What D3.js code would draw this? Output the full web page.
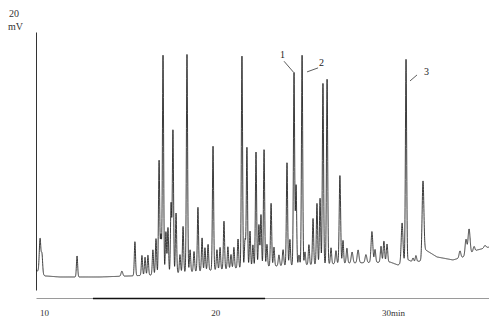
<!DOCTYPE html>
<html>
<head>
<meta charset="utf-8">
<script src="https://cdn.jsdelivr.net/npm/d3@7"></script>
<style>
  html, body { margin: 0; padding: 0; background: #fff; }
  svg { display: block; }
</style>
</head>
<body>
<svg id="chart" width="489" height="320"></svg>
<script>
// ---- data ----
// retention time (min) of each peak
const peakTimes = [9.77, 9.88, 11.93, 14.55, 15.31, 15.72, 15.90, 16.07, 16.36, 16.54,
  16.72, 16.83, 16.95, 17.12, 17.24, 17.42, 17.53, 17.71, 17.94, 18.12,
  18.35, 18.53, 18.76, 18.99, 19.23, 19.40, 19.58, 19.87, 20.10, 20.28,
  20.51, 20.74, 20.92, 21.09, 21.33, 21.56, 21.74, 21.85, 22.03, 22.20,
  22.38, 22.55, 22.67, 22.85, 23.02, 23.26, 23.43, 23.72, 23.96, 24.19,
  24.36, 24.60, 24.72, 24.89, 25.07, 25.24, 25.47, 25.71, 25.94, 26.12,
  26.29, 26.53, 26.76, 27.05, 27.28, 27.46, 27.69, 27.99, 28.34, 28.80,
  29.15, 29.33, 29.68, 29.85, 30.03, 30.91, 31.14, 31.55, 31.72, 32.13,
  34.29, 34.64, 34.82, 35.11, 35.75];
// peak height above baseline (mV)
const peakHeights = [2.64, 1.50, 1.63, 0.39, 2.64, 1.55, 1.40, 1.55, 1.94, 2.79,
  8.84, 3.02, 16.98, 3.26, 3.57, 5.43, 11.09, 4.65, 1.40, 3.57,
  16.90, 1.71, 1.55, 4.96, 2.56, 1.78, 2.02, 9.61, 1.55, 1.71,
  3.72, 1.71, 1.09, 1.63, 2.25, 16.43, 2.17, 9.30, 2.79, 1.71,
  8.91, 3.26, 4.03, 9.07, 1.71, 4.88, 1.47, 0.85, 1.24, 7.98,
  2.02, 14.96, 6.20, 0.78, 16.28, 1.00, 1.55, 3.57, 4.73, 5.12,
  14.03, 14.34, 1.24, 1.00, 6.82, 1.78, 1.16, 0.85, 1.00, 0.62,
  2.40, 1.00, 1.24, 1.63, 1.40, 3.10, 15.66, 0.31, 0.47, 5.58,
  0.54, 1.24, 1.94, 0.39, 0.20];
// peak width (standard deviation, min)
const peakWidths = [0.045, 0.04, 0.035, 0.05, 0.035, 0.035, 0.035, 0.035, 0.035, 0.035,
  0.035, 0.035, 0.035, 0.035, 0.035, 0.035, 0.035, 0.035, 0.035, 0.035,
  0.035, 0.035, 0.035, 0.035, 0.035, 0.035, 0.035, 0.035, 0.035, 0.035,
  0.035, 0.035, 0.035, 0.035, 0.035, 0.035, 0.035, 0.035, 0.035, 0.035,
  0.035, 0.035, 0.035, 0.035, 0.035, 0.035, 0.035, 0.04, 0.04, 0.035,
  0.035, 0.035, 0.035, 0.035, 0.035, 0.035, 0.035, 0.035, 0.035, 0.035,
  0.035, 0.035, 0.035, 0.04, 0.04, 0.035, 0.04, 0.05, 0.05, 0.05,
  0.05, 0.04, 0.04, 0.04, 0.04, 0.05, 0.035, 0.04, 0.04, 0.05,
  0.05, 0.05, 0.06, 0.05, 0.06];
// drifting baseline (min, mV)
const baseTimes  = [9.53, 10.06, 10.93, 13.27, 15.02, 16.19, 19.11, 22.03, 24.95, 27.87,
  30.20, 30.67, 31.26, 31.55, 32.01, 32.19, 32.95, 33.88, 34.47, 35.29, 35.99];
const baseValues = [1.55, 1.09, 1.01, 1.01, 1.09, 1.16, 1.47, 1.78, 1.94, 2.09,
  2.17, 1.94, 2.33, 2.17, 2.25, 3.18, 2.56, 2.33, 2.56, 3.10, 3.33];
// labelled peaks
const labelNames = ["1", "2", "3"];
const labelTimes = [24.60, 25.07, 31.14];
// axis
const tickValues = [10, 20, 30];
const tickLabels = ["10", "20", "30min"];
const yUnitTop = "20";
const yUnitBottom = "mV";

// ---- scales ----
const svg = d3.select("#chart");
const x = d3.scaleLinear().domain([9.533, 35.985]).range([36, 489]);
const y = d3.scaleLinear().domain([0, 20]).range([290, 32]);
const baseline = d3.scaleLinear().domain(baseTimes).range(baseValues).clamp(true);

// build trace from peak table
const samples = [];
const step = 0.005;
for (let t = x.domain()[0]; t <= x.domain()[1]; t += step) {
  let v = baseline(t);
  for (let i = 0; i < peakTimes.length; i++) {
    const d = (t - peakTimes[i]) / peakWidths[i];
    if (Math.abs(d) < 8) v += peakHeights[i] * Math.exp(-0.5 * d * d);
  }
  samples.push([t, v]);
}

// ---- axes ----
const yAxis = d3.axisLeft(y).tickValues([]).tickSizeOuter(0);
const gy = svg.append("g").attr("transform", "translate(36,0)").call(yAxis);
gy.select(".domain").attr("stroke", "#333").attr("stroke-width", 1);

const xAxis = d3.axisBottom(x).tickValues(tickValues).tickSize(0).tickSizeOuter(0)
  .tickPadding(12).tickFormat((d, i) => tickLabels[i]);
const gx = svg.append("g").attr("transform", "translate(0,298)").call(xAxis);
gx.select(".domain").attr("stroke", "#9a9a9a").attr("stroke-width", 1);
gx.selectAll("text")
  .attr("font-family", "'Liberation Serif', 'DejaVu Serif', serif")
  .attr("font-size", 9).attr("fill", "#333");
gx.selectAll(".tick").filter(d => d === 30).select("text")
  .attr("text-anchor", "start").attr("dx", -5);
// darker stretch of the time axis
gx.append("line")
  .attr("x1", x(12.86)).attr("x2", x(22.91))
  .attr("y1", 0.5).attr("y2", 0.5)
  .attr("stroke", "#111").attr("stroke-width", 1.6);

svg.append("text").attr("x", 9).attr("y", 17).text(yUnitTop)
  .attr("font-family", "'Liberation Serif', 'DejaVu Serif', serif")
  .attr("font-size", 10).attr("fill", "#333");
svg.append("text").attr("x", 8).attr("y", 30).text(yUnitBottom)
  .attr("font-family", "'Liberation Serif', 'DejaVu Serif', serif")
  .attr("font-size", 10).attr("fill", "#333");

// ---- trace ----
const line = d3.line().x(d => x(d[0])).y(d => y(d[1]));
svg.append("path").datum(samples)
  .attr("d", line)
  .attr("fill", "none")
  .attr("stroke", "#1a1a1a")
  .attr("stroke-width", 0.85)
  .attr("stroke-linejoin", "round");

// ---- peak labels ----
const apex = t => {
  const i = peakTimes.indexOf(t);
  return baseline(t) + peakHeights[i];
};
const lab = svg.append("g")
  .attr("font-family", "'Liberation Serif', 'DejaVu Serif', serif")
  .attr("font-size", 10).attr("fill", "#222");
{
  const px = x(labelTimes[0]), py = y(apex(labelTimes[0]));
  lab.append("line").attr("x1", px - 10).attr("y1", py - 11).attr("x2", px - 0.5).attr("y2", py)
    .attr("stroke", "#333").attr("stroke-width", 0.8);
  lab.append("text").attr("x", px - 14).attr("y", py - 14).text(labelNames[0]);
}
{
  const px = x(labelTimes[1]), py = y(apex(labelTimes[1]));
  lab.append("line").attr("x1", px + 5).attr("y1", py + 17).attr("x2", px + 16).attr("y2", py + 13)
    .attr("stroke", "#333").attr("stroke-width", 0.8);
  lab.append("text").attr("x", px + 17).attr("y", py + 11).text(labelNames[1]);
}
{
  const px = x(labelTimes[2]), py = y(apex(labelTimes[2]));
  lab.append("line").attr("x1", px + 4).attr("y1", py + 22).attr("x2", px + 11).attr("y2", py + 16)
    .attr("stroke", "#333").attr("stroke-width", 0.8);
  lab.append("text").attr("x", px + 18).attr("y", py + 16).text(labelNames[2]);
}
</script>
</body>
</html>
